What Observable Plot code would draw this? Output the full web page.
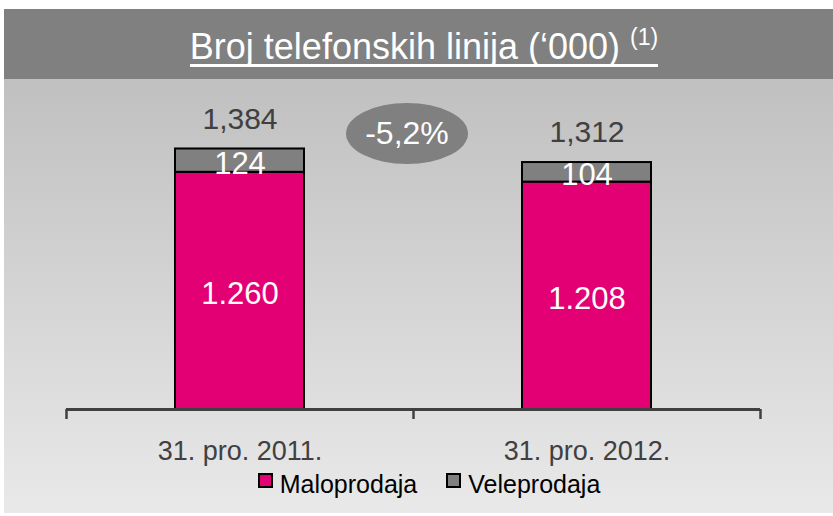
<!DOCTYPE html>
<html>
<head>
<meta charset="utf-8">
<script src="https://cdn.jsdelivr.net/npm/d3@7"></script>
<script src="https://cdn.jsdelivr.net/npm/@observablehq/plot@0.6"></script>
<style>
  html, body { margin: 0; padding: 0; background: #fff; }
  #wrap { position: relative; width: 833px; height: 516px; background: #fff; overflow: hidden;
          font-family: "Liberation Sans", Arial, sans-serif; }
  #header { position: absolute; left: 4px; top: 9px; width: 829px; height: 70px; background: #808080;
            color: #fff; text-align: center; box-sizing: border-box; padding-left: 11px; }
  #header span.t { display: inline-block; font-size: 36px; line-height: 34px; margin-top: 21px;
                   padding-bottom: 0; border-bottom: 3px solid #fff; }
  #header sup { font-size: 23px; vertical-align: 14px; line-height: 0; }
  #panel { position: absolute; left: 4px; top: 79px; width: 829px; height: 434px;
           background: linear-gradient(#c0c0c0, #e9e9e9); }
  #chart { position: absolute; left: 0; top: 79px; }
  #change { position: absolute; left: 346px; top: 103px; width: 122px; height: 61px; border-radius: 50%;
            background: #808080; color: #fff; font-size: 32px; display: flex; align-items: center;
            justify-content: center; }
  #legend { position: absolute; left: 0; top: 470px; width: 833px; display: flex; justify-content: center;
            padding-left: 25px; box-sizing: border-box; font-size: 25px; line-height: 28px; color: #000; }
  .item { display: flex; align-items: flex-start; }
  .item + .item { margin-left: 29px; }
  .sw { width: 11px; height: 11px; border: 2px solid #000; margin-top: 3px; margin-right: 7px; }
</style>
</head>
<body>
<div id="wrap">
  <div id="header"><span class="t">Broj telefonskih linija (‘000) <sup>(1)</sup></span></div>
  <div id="panel"></div>
  <div id="chart"></div>
  <div id="change"></div>
  <div id="legend"></div>
</div>
<script>
// ---- data ----
const categories = ["31. pro. 2011.", "31. pro. 2012."];
const series = ["Maloprodaja", "Veleprodaja"];
const maloprodaja = [1260, 1208];
const veleprodaja = [124, 104];
const totals = [1384, 1312];
const seriesColors = ["#e20074", "#808080"];

// ---- build table ----
const rows = [];
categories.forEach((c, i) => {
  rows.push({cat: c, series: series[0], value: maloprodaja[i]});
  rows.push({cat: c, series: series[1], value: veleprodaja[i]});
});

const fmtTotal = d3.format(",");
const fmtSeg = d3.formatLocale({decimal: ",", thousands: ".", grouping: [3], currency: ["", ""]}).format(",");

const W = 833, H = 395, mL = 66, mR = 73, mB = 65;
const yBase = H - mB, yTop = 10, yMax = 1700;
const step = (W - mL - mR) / categories.length;
const barW = 129;
const inset = (step - barW) / 2;
const unitsPerPx = yMax / (yBase - yTop);
const tickLen = 10;

const plot = Plot.plot({
  width: W, height: H,
  marginLeft: mL, marginRight: mR, marginBottom: mB, marginTop: yTop,
  style: {fontFamily: "'Liberation Sans', Arial, sans-serif", background: "transparent", color: "#404040"},
  x: {domain: categories, padding: 0, label: null},
  y: {domain: [0, yMax], range: [yBase, yTop], axis: null},
  color: {domain: series, range: seriesColors},
  marks: [
    Plot.axisX({tickSize: 0, tickPadding: 31, fontSize: 27, label: null}),
    Plot.barY(rows, {x: "cat", y: "value", fill: "series", stroke: "#000", strokeWidth: 2,
                     insetLeft: inset, insetRight: inset}),
    Plot.text(rows, Plot.stackY({x: "cat", y: "value", text: d => fmtSeg(d.value), fill: "#fff",
                                 fontSize: 31, dy: 3})),
    Plot.text(categories, {x: d => d, y: (d, i) => totals[i], text: (d, i) => fmtTotal(totals[i]),
                           fill: "#404040", fontSize: 30, dy: -30}),
    Plot.ruleY([0], {stroke: "#404040", strokeWidth: 3}),
    Plot.ruleX(categories, {x: d => d, dx: -step / 2, y1: 0, y2: -tickLen * unitsPerPx,
                            stroke: "#404040", strokeWidth: 2.5}),
    Plot.ruleX(categories.slice(-1), {x: d => d, dx: step / 2, y1: 0, y2: -tickLen * unitsPerPx,
                                      stroke: "#404040", strokeWidth: 2.5})
  ]
});
document.getElementById("chart").appendChild(plot);

// change annotation
const ch = (totals[totals.length - 1] / totals[0] - 1) * 100;
document.getElementById("change").textContent = ch.toFixed(1).replace(".", ",") + "%";

// legend
const leg = document.getElementById("legend");
series.forEach((s, i) => {
  const it = document.createElement("div");
  it.className = "item";
  const sw = document.createElement("div");
  sw.className = "sw";
  sw.style.background = seriesColors[i];
  const tx = document.createElement("span");
  tx.textContent = s;
  it.appendChild(sw); it.appendChild(tx);
  leg.appendChild(it);
});
</script>
</body>
</html>
